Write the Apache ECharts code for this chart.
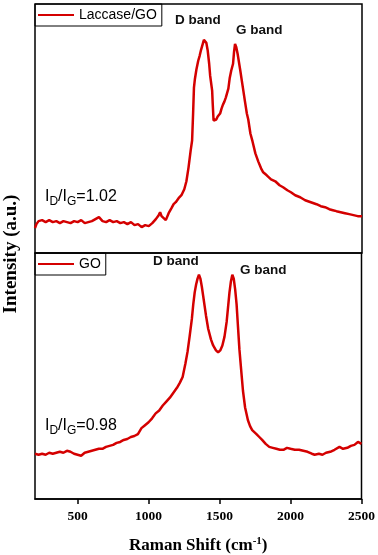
<!DOCTYPE html>
<html>
<head>
<meta charset="utf-8">
<script src="https://cdn.jsdelivr.net/npm/echarts@6/dist/echarts.min.js"></script>
<style>
html,body{margin:0;padding:0;background:#fff;}
#chart{width:378px;height:555px;}
</style>
</head>
<body>
<div id="chart"></div>
<script>
// Raman shift / intensity (arbitrary units)
var lacX=[200,210,225,250,275,300,325,350,375,400,425,450,475,500,525,550,575,600,625,650,675,700,725,750,775,800,825,850,875,900,925,950,975,1000,1025,1050,1070,1080,1090,1105,1120,1140,1160,1175,1190,1210,1230,1250,1265,1280,1295,1305,1312,1318,1325,1335,1348,1358,1368,1378,1388,1397,1405,1415,1425,1432,1440,1446,1450,1456,1465,1475,1485,1495,1502,1512,1522,1532,1542,1551,1560,1570,1580,1593,1600,1607,1615,1625,1642,1660,1677,1690,1700,1715,1730,1750,1770,1790,1805,1830,1860,1890,1920,1945,1975,2000,2030,2065,2100,2140,2180,2210,2240,2270,2295,2320,2350,2380,2410,2440,2470,2500];
var lacY=[25,29,32,33,31,33,31,32,30,32,31,30,32,31,33,30,31,32,34,36,32,31,33,31,32,30,31,29,31,28,29,26,28,27,30,34,38,41,37,35,33,40,45,49,51,55,58,64,72,86,103,113,140,166,175,184,193,198,204,209,214,216,211,203,190,178,176,163,150,133,131,134,137,139,140,145,149,152,156,156,165,176,183,190,202,210,207,200,185,168,152,140,134,120,112,100,92,85,81,78,74,72,68,66,63,61,58,56,53,51,49,47,46,44,43,42,41,40,39,38,37,37];

var goX=[200,225,250,275,300,325,350,375,400,425,450,475,500,525,550,575,600,625,650,675,700,725,750,775,800,825,850,875,900,925,950,975,1000,1025,1050,1075,1100,1125,1150,1175,1200,1220,1240,1260,1275,1290,1305,1315,1325,1335,1345,1355,1365,1375,1385,1395,1405,1420,1440,1455,1475,1490,1505,1520,1535,1550,1560,1570,1580,1590,1600,1610,1620,1630,1640,1650,1665,1680,1700,1715,1730,1745,1760,1780,1800,1825,1850,1875,1900,1925,1950,1975,2000,2030,2060,2090,2120,2150,2170,2200,2225,2250,2280,2310,2345,2370,2400,2425,2450,2475,2500];
var goY=[46,45,46,45,47,46,47,48,47,49,48,46,45,44,47,48,49,50,51,51,53,54,55,57,58,60,61,63,64,66,72,75,78,82,87,90,95,99,103,108,113,118,124,138,150,166,183,198,210,218,224,228,224,216,206,196,186,173,162,156,151,149,151,156,165,180,195,210,221,228,224,213,198,175,152,135,110,93,80,74,70,68,66,63,60,56,53,52,51,50,50,52,51,50,50,49,48,46,45,46,45,47,48,50,53,51,52,54,55,58,56];

var xTicks=[500,1000,1500,2000,2500];
var red='#d40000';

function pairs(xs,ys){
    var out=[];
    for(var i=0;i<xs.length;i++){out.push([xs[i],ys[i]]);}
    return out;
}

var chart=echarts.init(document.getElementById('chart'));
var serif='"Liberation Serif","Times New Roman",serif';
var sans='"Liberation Sans",Arial,sans-serif';

function ratioText(val){
    return '{a|I}{s|D}{a|/I}{s|G}{a|='+val+'}';
}
var ratioRich={
    a:{fontFamily:sans,fontSize:16,color:'#222'},
    s:{fontFamily:sans,fontSize:12,color:'#222',padding:[10,0,0,0]}
};

var option={
    animation:false,
    grid:[
        {left:35,top:4,width:327,height:249,show:true,borderColor:'#000',borderWidth:1.5},
        {left:35,top:253,width:327,height:250,show:true,borderColor:'#000',borderWidth:1.5}
    ],
    xAxis:[
        {type:'value',gridIndex:0,min:200,max:2500,
            axisLine:{show:false},axisTick:{show:false},axisLabel:{show:false},splitLine:{show:false}},
        {type:'value',gridIndex:1,min:200,max:2500,
            axisLine:{show:true,lineStyle:{color:'#000',width:1.5}},
            axisTick:{show:true,length:5,lineStyle:{color:'#000',width:1.5},customValues:xTicks},
            axisLabel:{show:true,margin:11,fontSize:13.5,fontFamily:serif,fontWeight:'bold',color:'#000',
                customValues:xTicks,formatter:function(v){return String(v);}},
            splitLine:{show:false},
            name:'{t|Raman Shift (cm}{u|-1}{t|)}',
            nameLocation:'middle',nameGap:37,
            nameTextStyle:{rich:{
                t:{fontFamily:serif,fontWeight:'bold',fontSize:17,color:'#000'},
                u:{fontFamily:serif,fontWeight:'bold',fontSize:11,color:'#000',padding:[0,0,8,0]}
            }}
        }
    ],
    yAxis:[
        {type:'value',gridIndex:0,min:0,max:250,show:false},
        {type:'value',gridIndex:1,min:0,max:250,show:false}
    ],
    legend:[
        {data:['Laccase/GO'],left:35,top:4,orient:'horizontal',icon:'rect',itemWidth:36,itemHeight:2,itemGap:5,
            padding:[4,5,4,3],borderColor:'#000',borderWidth:1,borderRadius:0,
            textStyle:{fontFamily:sans,fontSize:14,color:'#000'}},
        {data:['GO'],left:35,top:253,orient:'horizontal',icon:'rect',itemWidth:36,itemHeight:2,itemGap:5,
            padding:[4,5,4,3],borderColor:'#000',borderWidth:1,borderRadius:0,
            textStyle:{fontFamily:sans,fontSize:14,color:'#000'}}
    ],
    series:[
        {name:'Laccase/GO',type:'line',xAxisIndex:0,yAxisIndex:0,symbol:'none',
            lineStyle:{color:red,width:2.5},itemStyle:{color:red},data:pairs(lacX,lacY)},
        {name:'GO',type:'line',xAxisIndex:1,yAxisIndex:1,symbol:'none',
            lineStyle:{color:red,width:2.5},itemStyle:{color:red},data:pairs(goX,goY)}
    ],
    graphic:[
        {type:'text',x:11,y:254,rotation:Math.PI/2,
            style:{text:'Intensity (a.u.)',textAlign:'center',textVerticalAlign:'middle',
                font:'bold 19px '+serif,fill:'#000'}},
        {type:'text',left:175,top:13,style:{text:'D band',font:'bold 13.5px '+sans,fill:'#111'}},
        {type:'text',left:236,top:23,style:{text:'G band',font:'bold 13.5px '+sans,fill:'#111'}},
        {type:'text',left:153,top:254,style:{text:'D band',font:'bold 13.5px '+sans,fill:'#111'}},
        {type:'text',left:240,top:263,style:{text:'G band',font:'bold 13.5px '+sans,fill:'#111'}},
        {type:'text',left:45,top:189,style:{text:ratioText('1.02'),rich:ratioRich}},
        {type:'text',left:45,top:418,style:{text:ratioText('0.98'),rich:ratioRich}}
    ]
};
chart.setOption(option);
</script>
</body>
</html>
